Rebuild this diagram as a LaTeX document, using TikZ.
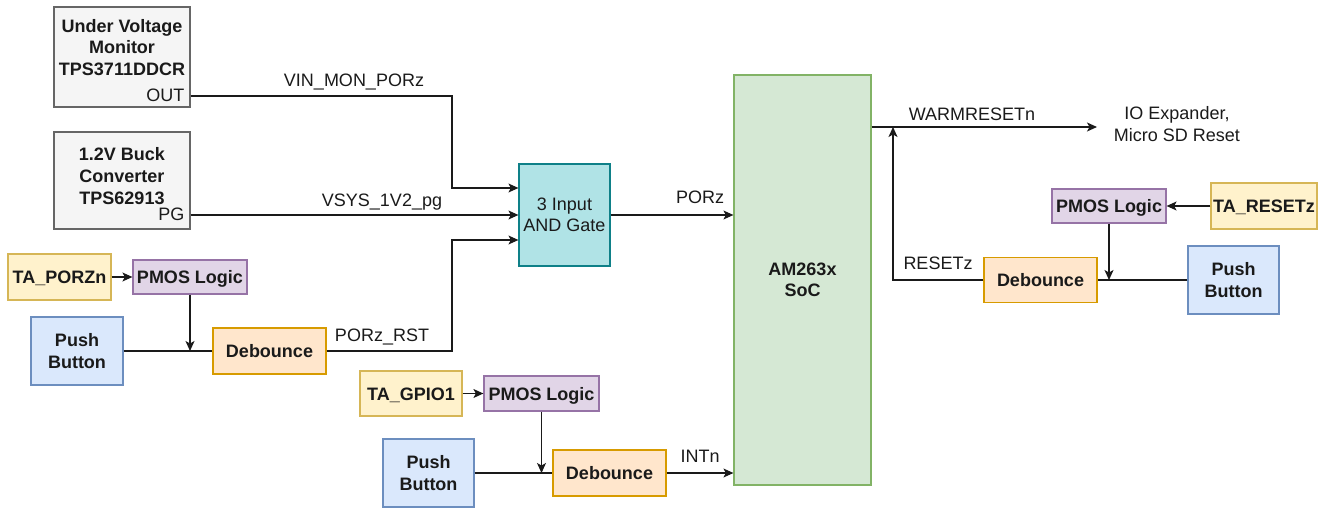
\documentclass[tikz,border=0pt]{standalone}
\usepackage{fontspec}
\setmainfont{Liberation Sans}
\usetikzlibrary{arrows.meta}
\definecolor{gfill}{HTML}{F5F5F5}\definecolor{gdraw}{HTML}{666666}
\definecolor{cfill}{HTML}{B0E3E6}\definecolor{cdraw}{HTML}{0E8088}
\definecolor{sfill}{HTML}{D5E8D4}\definecolor{sdraw}{HTML}{82B366}
\definecolor{yfill}{HTML}{FFF2CC}\definecolor{ydraw}{HTML}{D6B656}
\definecolor{pfill}{HTML}{E1D5E7}\definecolor{pdraw}{HTML}{9673A6}
\definecolor{bfill}{HTML}{DAE8FC}\definecolor{bdraw}{HTML}{6C8EBF}
\definecolor{ofill}{HTML}{FFE6CC}\definecolor{odraw}{HTML}{D79B00}
\definecolor{ink}{HTML}{1A1A1A}
\begin{document}
\begin{tikzpicture}[x=1pt,y=-1pt,
  box/.style={draw, line width=1.2pt, inner sep=0pt, align=center, text=ink,
    font=\bfseries\fontsize{18}{21.6}\selectfont},
  one/.style={text height=13pt, text depth=0pt},
  graybox/.style={box, fill=gfill, draw=gdraw},
  andbox/.style={box, fill=cfill, draw=cdraw, font=\fontsize{18}{21.6}\selectfont},
  socbox/.style={box, fill=sfill, draw=sdraw},
  tabox/.style={box, one, fill=yfill, draw=ydraw},
  pmosbox/.style={box, one, fill=pfill, draw=pdraw},
  pbbox/.style={box, fill=bfill, draw=bdraw},
  dbbox/.style={box, one, fill=ofill, draw=odraw},
  btxt/.style={inner sep=0pt, align=center, text=ink, font=\bfseries\fontsize{18}{21.6}\selectfont},
  lbl/.style={inner sep=0pt, anchor=base, text=ink, font=\fontsize{18}{21.6}\selectfont},
  wire/.style={line width=1.1pt, draw=ink},
  arr/.style={wire, -{Stealth[length=10pt,width=9pt,inset=2.5pt]}}
]
\useasboundingbox (0,0) rectangle (1318,508);

% left sources
\node[graybox, minimum width=136pt, minimum height=100pt] (uvm) at (122,57) {};
\node[btxt] (uvmt) at (122,47.5) {Under Voltage\\Monitor\\TPS3711DDCR};
\node[lbl, anchor=base east] (uvmo) at (184.5,102) {OUT};
\node[graybox, minimum width=136pt, minimum height=97pt] (buck) at (122,180.5) {};
\node[btxt] (buckt) at (122,176) {1.2V Buck\\Converter\\TPS62913};
\node[lbl, anchor=base east] (buckp) at (184.5,221) {PG};

\node[tabox, minimum width=103pt, minimum height=46pt] (tap) at (59.5,277) {TA\_PORZn};
\node[pmosbox, minimum width=114pt, minimum height=34pt] (pm1) at (190,277) {PMOS Logic};
\node[pbbox, minimum width=92pt, minimum height=68pt] (pb1) at (77,351) {Push\\Button};
\node[dbbox, minimum width=113pt, minimum height=46pt] (db1) at (269.5,351) {Debounce};

% AND gate and SoC
\node[andbox, minimum width=91pt, minimum height=102pt] (and) at (564.5,215) {3 Input\\AND Gate};
\node[socbox, minimum width=137pt, minimum height=410pt] (soc) at (802.5,280) {AM263x\\SoC};

% bottom group
\node[tabox, minimum width=102pt, minimum height=45pt] (tag) at (411,393.5) {TA\_GPIO1};
\node[pmosbox, minimum width=115pt, minimum height=35pt] (pm2) at (541.5,393.5) {PMOS Logic};
\node[pbbox, minimum width=91pt, minimum height=68pt] (pb2) at (428.5,473) {Push\\Button};
\node[dbbox, minimum width=113pt, minimum height=46pt] (db2) at (609.5,473) {Debounce};

% right group
\node[tabox, minimum width=106pt, minimum height=46pt] (tar) at (1264,206) {TA\_RESETz};
\node[pmosbox, minimum width=114pt, minimum height=34pt] (pm3) at (1109,206) {PMOS Logic};
\node[pbbox, minimum width=91pt, minimum height=68pt] (pb3) at (1233.5,280) {Push\\Button};
\node[dbbox, minimum width=113pt, minimum height=45pt] (db3) at (1040.5,280) {Debounce};

% labels
\node[lbl] (l1) at (354,87) {VIN\_MON\_PORz};
\node[lbl] (l2) at (382,207) {VSYS\_1V2\_pg};
\node[lbl] (l3) at (382,341) {PORz\_RST};
\node[lbl] (l4) at (700,204) {PORz};
\node[lbl] (l5) at (700,462) {INTn};
\node[lbl] (l6) at (972,121) {WARMRESETn};
\node[lbl] (l7) at (938,269) {RESETz};
\node[lbl] (l8) at (1177,120) {IO Expander,};
\node[lbl] (l9) at (1177,142) {Micro SD Reset};

% junction coordinates
\coordinate (j1) at (452,96);
\coordinate (j2) at (452,188);
\coordinate (j3) at (452,240);
\coordinate (j4) at (452,351);
\coordinate (w1) at (893,127);
\coordinate (wend) at (1097,127);

% connectors
\draw[arr] (uvm.east |- j1) -- (j1) -- (j2) -- (and.west |- j2);
\draw[arr] (buck.east |- and.west) -- (and.west);
\draw[arr] (db1.east) -- (j4) -- (j3) -- (and.west |- j3);
\draw[arr] (and.east) -- (soc.west |- and.east);
\draw[arr] (tap.east) -- (pm1.west);
\draw[arr] (pm1.south) -- (pm1.south |- pb1.east);
\draw[wire] (pb1.east) -- (db1.west);
\draw[arr] (tag.east) -- (pm2.west);
\draw[arr] (pm2.south) -- (pm2.south |- db2.west);
\draw[wire] (pb2.east) -- (db2.west);
\draw[arr] (db2.east) -- (soc.west |- db2.east);
\draw[arr] (soc.east |- w1) -- (wend);
\draw[arr] (db3.west) -- (w1 |- db3.west) -- (w1);
\draw[arr] (tar.west) -- (pm3.east);
\draw[arr] (pm3.south) -- (pm3.south |- db3.east);
\draw[wire] (pb3.west) -- (db3.east);
\end{tikzpicture}
\end{document}
